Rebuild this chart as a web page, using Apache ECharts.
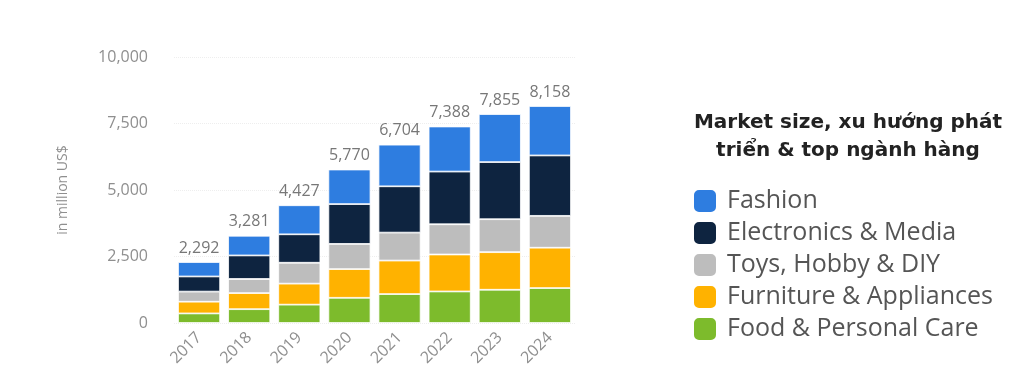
<!DOCTYPE html>
<html>
<head>
<meta charset="utf-8">
<script src="https://cdn.jsdelivr.net/npm/echarts@6/dist/echarts.min.js"></script>
<style>
html,body{margin:0;padding:0;background:#fff;}
#chart{width:1014px;height:371px;}
</style>
</head>
<body>
<div id="chart"></div>
<script>
const years = ['2017','2018','2019','2020','2021','2022','2023','2024'];
const food = [360, 520, 690, 947, 1087, 1186, 1250, 1314];
const furniture = [440, 605, 790, 1080, 1261, 1390, 1413, 1516];
const toys = [380, 530, 785, 946, 1050, 1136, 1239, 1197];
const electronics = [570, 885, 1070, 1497, 1742, 1981, 2147, 2272];
const fashion = [542, 741, 1092, 1300, 1564, 1695, 1806, 1859];
const totals = [2292, 3281, 4427, 5770, 6704, 7388, 7855, 8158];
const yTicks = [0, 2500, 5000, 7500, 10000];

const names = ['Food & Personal Care','Furniture & Appliances','Toys, Hobby & DIY','Electronics & Media','Fashion'];
const colors = ['#7dbb2c','#ffb200','#bdbdbd','#0e2440','#2e7de0'];
const values = [food, furniture, toys, electronics, fashion];

const chart = echarts.init(document.getElementById('chart'));
const series = names.map((n, i) => ({
  name: n,
  type: 'bar',
  stack: 'total',
  barWidth: '84%',
  data: values[i],
  itemStyle: {color: colors[i], borderColor: '#fff', borderWidth: 0.8},
  label: i === 4 ? {
    show: true, position: 'top', distance: 6,
    color: '#777', fontSize: 16, fontFamily: 'Open Sans',
    formatter: p => totals[p.dataIndex].toLocaleString('en-US')
  } : {show: false}
}));

chart.setOption({
  animation: false,
  grid: {left: 174, right: 439, top: 57, bottom: 48},
  xAxis: {
    type: 'category', data: years,
    axisLine: {show: false}, axisTick: {show: false},
    axisLabel: {rotate: 45, color: '#8f8f8f', fontSize: 16, fontFamily: 'Open Sans', margin: 12}
  },
  yAxis: {
    type: 'value', min: yTicks[0], max: yTicks[yTicks.length-1], interval: 2500,
    name: 'in million US$', nameLocation: 'middle', nameGap: 104, nameRotate: 90,
    nameTextStyle: {color: '#8f8f8f', fontSize: 14, fontFamily: 'Open Sans'},
    axisLabel: {color: '#8f8f8f', fontSize: 16, fontFamily: 'Open Sans', margin: 26,
      formatter: v => v.toLocaleString('en-US')},
    splitLine: {lineStyle: {color: '#eeeeee', type: 'dotted'}}
  },
  legend: {
    orient: 'vertical', left: 687, top: 183,
    data: names.slice().reverse(),
    itemWidth: 24, itemHeight: 24, itemGap: 6,
    icon: 'roundRect',
    textStyle: {color: '#555', fontSize: 25, lineHeight: 24, fontFamily: 'Open Sans', padding: [0,0,0,5]}
  },
  graphic: [
    {type: 'text', x: 848, y: 109, style: {
      text: 'Market size, xu hướng phát\ntriển & top ngành hàng',
      align: 'center', font: 'bold 20px "DejaVu Sans"', fill: '#222', lineHeight: 28
    }}
  ],
  series: series
});
</script>
</body>
</html>
